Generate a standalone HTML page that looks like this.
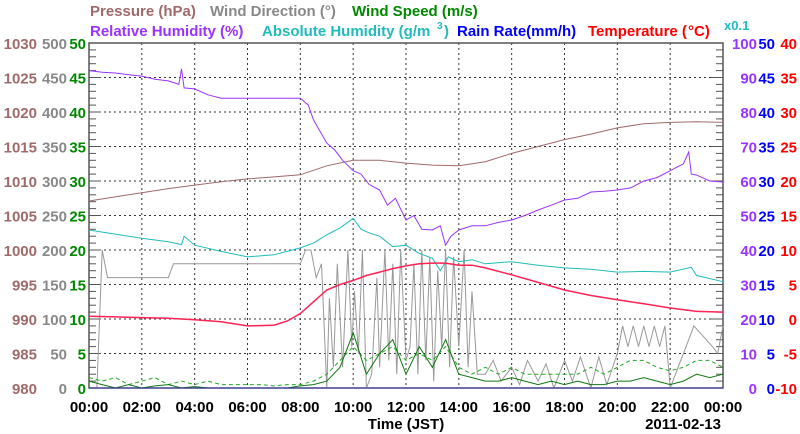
<!DOCTYPE html>
<html><head><meta charset="utf-8"><style>
html,body{margin:0;padding:0;background:#fff;}
svg{display:block;font-family:"Liberation Sans",sans-serif;font-weight:bold;}
</style></head><body>
<svg id="c" width="800" height="434" viewBox="0 0 800 434"></svg>
<script>
const pressT=[0,1,2,3,4,5,6,7,8,9,10,11,12,13,14,15,16,17,18,19,20,21,22,23,24];
const pressV=[1007.1,1007.7,1008.3,1008.9,1009.4,1009.9,1010.3,1010.6,1010.9,1012.2,1013,1013,1012.6,1012.3,1012.2,1012.8,1014,1015,1016,1016.8,1017.7,1018.3,1018.5,1018.6,1018.5];
const rhT=[0,0.5,1,1.5,2,2.5,3,3.4,3.5,3.6,4,4.5,5,5.5,6,7,8,8.3,8.5,9,9.3,9.6,10,10.3,10.6,11,11.3,11.6,12,12.3,12.6,13,13.3,13.5,13.7,14,14.5,15,15.5,16,16.5,17,17.5,18,18.5,19,19.5,20,20.5,21,21.5,22,22.5,22.7,22.8,23,23.5,24];
const rhV=[92,91.5,91.3,90.8,90.4,89.5,89,88,92.5,87,86.7,85,84,84,84,84,84,82,77.7,71,69,66,63,62,59,57.4,53,55,48.7,50,46,45.8,47,41.4,44,45.8,47,47,48,48.7,50,51.6,53,54.5,55,56.8,57,57.4,58,60,61,63,65,68.4,62,61.7,60,59.7];
const ahT=[0,1,2,3,3.5,3.6,4,5,6,7,8,8.5,9,9.5,10,10.3,10.6,11,11.5,12,12.5,13,13.3,13.6,14,14.5,15,16,17,18,19,20,21,22,22.8,23,24];
const ahV=[22.9,22.3,21.7,21.2,20.8,22,20.7,19.8,19,19.3,20.3,21,22.2,23.2,24.6,23,22.5,22,20.5,20.7,19.5,18.8,17,19,18.3,18.6,18,18.3,17.8,17.4,17.2,16.8,16.9,16.8,17.5,16.3,15.4];
const tempT=[0,1,2,3,4,5,6,7,7.5,8,8.5,9,9.5,10,10.5,11,11.5,12,12.5,13,13.5,14,14.5,15,16,17,18,19,20,21,22,23,24];
const tempV=[0.4,0.3,0.2,0.1,-0.1,-0.4,-1,-0.9,-0.3,0.8,2.5,4.2,5,5.6,6.3,6.8,7.3,7.7,8,8.1,8.1,7.8,7.8,7.4,6.4,5.3,4.2,3.4,2.8,2.2,1.6,1.1,1];
const wdT=[0,0.3,0.5,0.7,3,3.2,8,8.2,8.4,8.6,8.8,9,9.1,9.25,9.4,9.6,9.8,9.95,10.05,10.2,10.35,10.5,10.7,10.9,11,11.2,11.35,11.5,11.65,11.8,12,12.15,12.3,12.45,12.6,12.75,12.9,13.05,13.2,13.35,13.5,13.65,13.8,14,14.2,14.35,14.5,14.7,15,15.3,15.6,16,16.3,16.6,17,17.3,17.6,18,18.3,18.6,19,19.3,19.6,20,20.2,20.4,20.6,20.8,21,21.2,21.4,21.6,21.8,22,22.7,22.9,23.6,23.8,24];
const wdV=[0,0,200,160,160,180,180,200,200,160,180,0,130,30,180,30,200,60,140,50,200,0,20,160,30,200,40,180,20,200,40,60,180,20,200,40,190,10,170,60,200,30,190,60,200,30,140,20,20,40,10,30,5,40,10,35,0,40,10,45,0,45,5,50,90,60,90,60,90,60,90,60,90,0,70,90,60,50,90];
const wsT=[0,0.5,1,1.5,2,2.5,3,3.5,4,4.5,5,5.5,6,6.5,7,7.5,8,8.5,9,9.5,10,10.5,11,11.5,12,12.5,13,13.5,14,14.5,15,15.5,16,16.5,17,17.5,18,18.5,19,19.5,20,20.5,21,21.5,22,22.5,23,23.5,24];
const wsAvg=[1,0.5,0,0.5,0,0.3,0.5,0,0.2,0,0,0,0,0,0,0,0.3,0.5,1,3,8,2,5,7,2,6,3,7,2,1.5,1,1,1.5,1,0.5,1,0.5,1,0.5,0.5,1,1,1.5,1,0.5,1,2,1.5,2];
const wsMax=[1.5,1,1.5,0.5,1,1.5,0.5,1,0.5,1,0.5,0.5,0.5,0.5,0.3,0.5,0.5,1,2,4,6,4,5,6,4,5,4,6,3,2,3,2,3,2,2,2,2,2,3,2,3,4,4,3,2.5,3,4,4,3];
const leftTicks1=[980,985,990,995,1000,1005,1010,1015,1020,1025,1030];
const leftTicks2=[0,50,100,150,200,250,300,350,400,450,500];
const leftTicks3=[0,5,10,15,20,25,30,35,40,45,50];
const rightTicks1=[0,10,20,30,40,50,60,70,80,90,100];
const rightTicks2=[0,5,10,15,20,25,30,35,40,45,50];
const rightTicks3=[-10,-5,0,5,10,15,20,25,30,35,40];
const xLabels=["00:00","02:00","04:00","06:00","08:00","10:00","12:00","14:00","16:00","18:00","20:00","22:00","00:00"];

const svg=document.getElementById('c');const NS='http://www.w3.org/2000/svg';
const X0=89,X1=723,Y0=388,Y1=43;
const xs=h=>X0+(X1-X0)*h/24;
const ys=(v,lo,hi)=>Y0-(Y0-Y1)*(v-lo)/(hi-lo);
function mk(tag,attrs,parent){const e=document.createElementNS(NS,tag);for(const k in attrs)e.setAttribute(k,attrs[k]);(parent||svg).appendChild(e);return e;}
function txt(x,y,s,fill,anchor,size){const t=mk('text',{x:x,y:y,fill:fill,'text-anchor':anchor||'start','font-size':size||15});t.textContent=s;return t;}
for(let i=1;i<12;i++){const l=mk('line',{x1:xs(i*2),x2:xs(i*2),y1:Y1,y2:Y0,stroke:'#333','stroke-dasharray':'2,3','stroke-width':1});

}
for(let i=1;i<10;i++){const y=Y0-(Y0-Y1)*i/10;const l=mk('line',{x1:X0,x2:X1,y1:y,y2:y,stroke:'#333','stroke-dasharray':'2,3','stroke-width':1});

}
for(let i=0;i<=50;i++){const y=Y0-(Y0-Y1)*i/50;const L=i%5==0?12:7;
mk('line',{x1:X0,x2:X0+L,y1:y,y2:y,stroke:'#555'});mk('line',{x1:X1-L,x2:X1,y1:y,y2:y,stroke:'#555'});}
mk('rect',{x:X0,y:Y1,width:X1-X0,height:Y0-Y1,fill:'none',stroke:'#555','stroke-width':1.5});
const cols=[['#a06a6a',leftTicks1,37,980,1030],['#888',leftTicks2,67,0,500],['#008800',leftTicks3,86,0,50]];
cols.forEach(c=>c[1].forEach(v=>{const t=txt(c[2],ys(v,c[3],c[4])+6,String(v),c[0],'end');

}));
const rc=[['#9933ff',rightTicks1,757,0,100],['#0000ff',rightTicks2,775,0,50],['#ff0000',rightTicks3,797,-10,40]];
rc.forEach(c=>c[1].forEach(v=>{const t=txt(c[2],ys(v,c[3],c[4])+6,String(v),c[0],'end');

}));
xLabels.forEach((s,i)=>{const t=txt(xs(i*2),412,s,'#000','middle');

});
let t=txt(406,429,'Time (JST)','#000','middle');
t=txt(721,429,'2011-02-13','#000','end');
const leg1=[['Pressure (hPa)','#a06a6a',90],['Wind Direction (°)','#888',210],['Wind Speed (m/s)','#008800',352]];
leg1.forEach(l=>{const e=txt(l[2],16,l[0],l[1]);});
const leg2=[['Relative Humidity (%)','#9933ff',90],['Absolute Humidity (g/m','#22bbbb',262],['Rain Rate(mm/h)','#0000ff',457],['Temperature (','#ff0000',588]];
leg2.forEach(l=>{const e=txt(l[2],36,l[0],l[1]);});
t=txt(437,29,'3','#22bbbb','start',10);t=txt(444,36,')','#22bbbb');
t=txt(688,36,'°C)','#ff0000');
t=txt(724,30,'x0.1','#22bbbb','start',13);
function line(T,V,lo,hi,color,name,dash,w){const d=T.map((h,i)=>(i?'L':'M')+xs(h).toFixed(1)+','+ys(V[i],lo,hi).toFixed(1)).join('');
const p=mk('path',{d:d,fill:'none',stroke:color,'stroke-width':w||1,'stroke-dasharray':dash||'none'});

}
line(wdT,wdV,0,500,'#999','wind-direction-line');
line(wsT,wsMax,0,50,'#22aa22','wind-gust-line','4,3');
line(wsT,wsAvg,0,50,'#117711','wind-speed-line');
line([0,24],[0,0],0,50,'#3333aa','rain-rate-line');
line(pressT,pressV,980,1030,'#a06a6a','pressure-line');
line(ahT,ahV,0,50,'#22bbbb','absolute-humidity-line');
line(rhT,rhV,0,100,'#9933ff','relative-humidity-line');
line(tempT,tempV,-10,40,'#ff2255','temperature-line','',1.5);
</script>
</body></html>
